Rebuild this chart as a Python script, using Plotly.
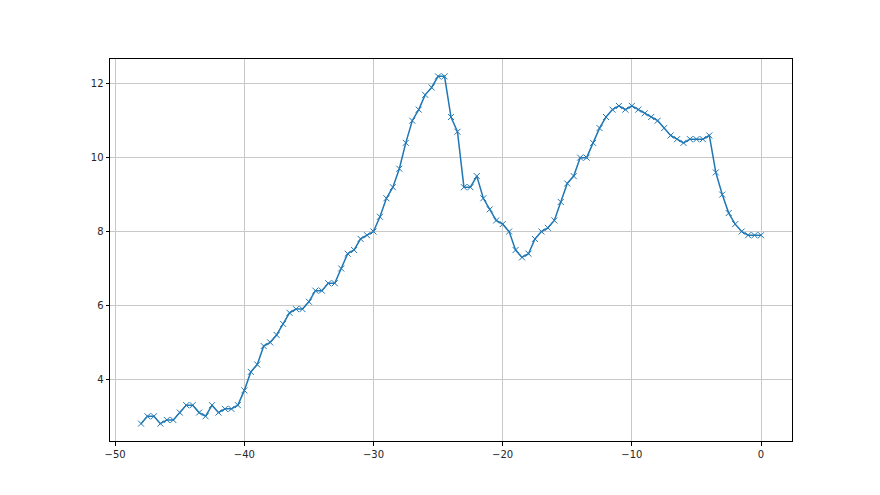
import plotly.graph_objects as go

x_vals = [-48.0, -47.5, -47.0, -46.5, -46.0, -45.5, -45.0, -44.5, -44.0, -43.5,
          -43.0, -42.5, -42.0, -41.5, -41.0, -40.5, -40.0, -39.5, -39.0, -38.5,
          -38.0, -37.5, -37.0, -36.5, -36.0, -35.5, -35.0, -34.5, -34.0, -33.5,
          -33.0, -32.5, -32.0, -31.5, -31.0, -30.5, -30.0, -29.5, -29.0, -28.5,
          -28.0, -27.5, -27.0, -26.5, -26.0, -25.5, -25.0, -24.5, -24.0, -23.5,
          -23.0, -22.5, -22.0, -21.5, -21.0, -20.5, -20.0, -19.5, -19.0, -18.5,
          -18.0, -17.5, -17.0, -16.5, -16.0, -15.5, -15.0, -14.5, -14.0, -13.5,
          -13.0, -12.5, -12.0, -11.5, -11.0, -10.5, -10.0, -9.5, -9.0, -8.5,
          -8.0, -7.5, -7.0, -6.5, -6.0, -5.5, -5.0, -4.5, -4.0, -3.5,
          -3.0, -2.5, -2.0, -1.5, -1.0, -0.5, 0.0]

y_vals = [2.8, 3.0, 3.0, 2.8, 2.9, 2.9, 3.1, 3.3, 3.3, 3.1,
          3.0, 3.3, 3.1, 3.2, 3.2, 3.3, 3.7, 4.2, 4.4, 4.9,
          5.0, 5.2, 5.5, 5.8, 5.9, 5.9, 6.1, 6.4, 6.4, 6.6,
          6.6, 7.0, 7.4, 7.5, 7.8, 7.9, 8.0, 8.4, 8.9, 9.2,
          9.7, 10.4, 11.0, 11.3, 11.7, 11.9, 12.2, 12.2, 11.1, 10.7,
          9.2, 9.2, 9.5, 8.9, 8.6, 8.3, 8.2, 8.0, 7.5, 7.3,
          7.4, 7.8, 8.0, 8.1, 8.3, 8.8, 9.3, 9.5, 10.0, 10.0,
          10.4, 10.8, 11.1, 11.3, 11.4, 11.3, 11.4, 11.3, 11.2, 11.1,
          11.0, 10.8, 10.6, 10.5, 10.4, 10.5, 10.5, 10.5, 10.6, 9.6,
          9.0, 8.5, 8.2, 8.0, 7.9, 7.9, 7.9]

x_ticks = [-50, -40, -30, -20, -10, 0]
y_ticks = [4, 6, 8, 10, 12]

fig = go.Figure()
fig.add_trace(go.Scatter(
    x=x_vals, y=y_vals, mode="lines+markers",
    line=dict(color="#1f77b4", width=1.5),
    marker=dict(symbol="x-thin", size=6, line=dict(color="#1f77b4", width=1)),
    showlegend=False,
))

axis_common = dict(
    showline=True, linecolor="black", linewidth=1, mirror=True,
    ticks="outside", ticklen=3.5, tickwidth=0.8, tickcolor="black",
    showgrid=True, gridcolor="#c8c8c8", gridwidth=0.8,
    zeroline=False,
    tickfont=dict(family="DejaVu Sans", size=10, color="#262626"),
)

fig.update_layout(
    width=880, height=495,
    margin=dict(l=102, r=96, t=51, b=62),
    paper_bgcolor="white", plot_bgcolor="white",
    xaxis=dict(range=[-50.4, 2.4], tickvals=x_ticks,
               ticktext=["\u221250", "\u221240", "\u221230", "\u221220", "\u221210", "0"],
               **axis_common),
    yaxis=dict(range=[2.33, 12.67], tickvals=y_ticks, **axis_common),
)

fig.write_html("out.html")
